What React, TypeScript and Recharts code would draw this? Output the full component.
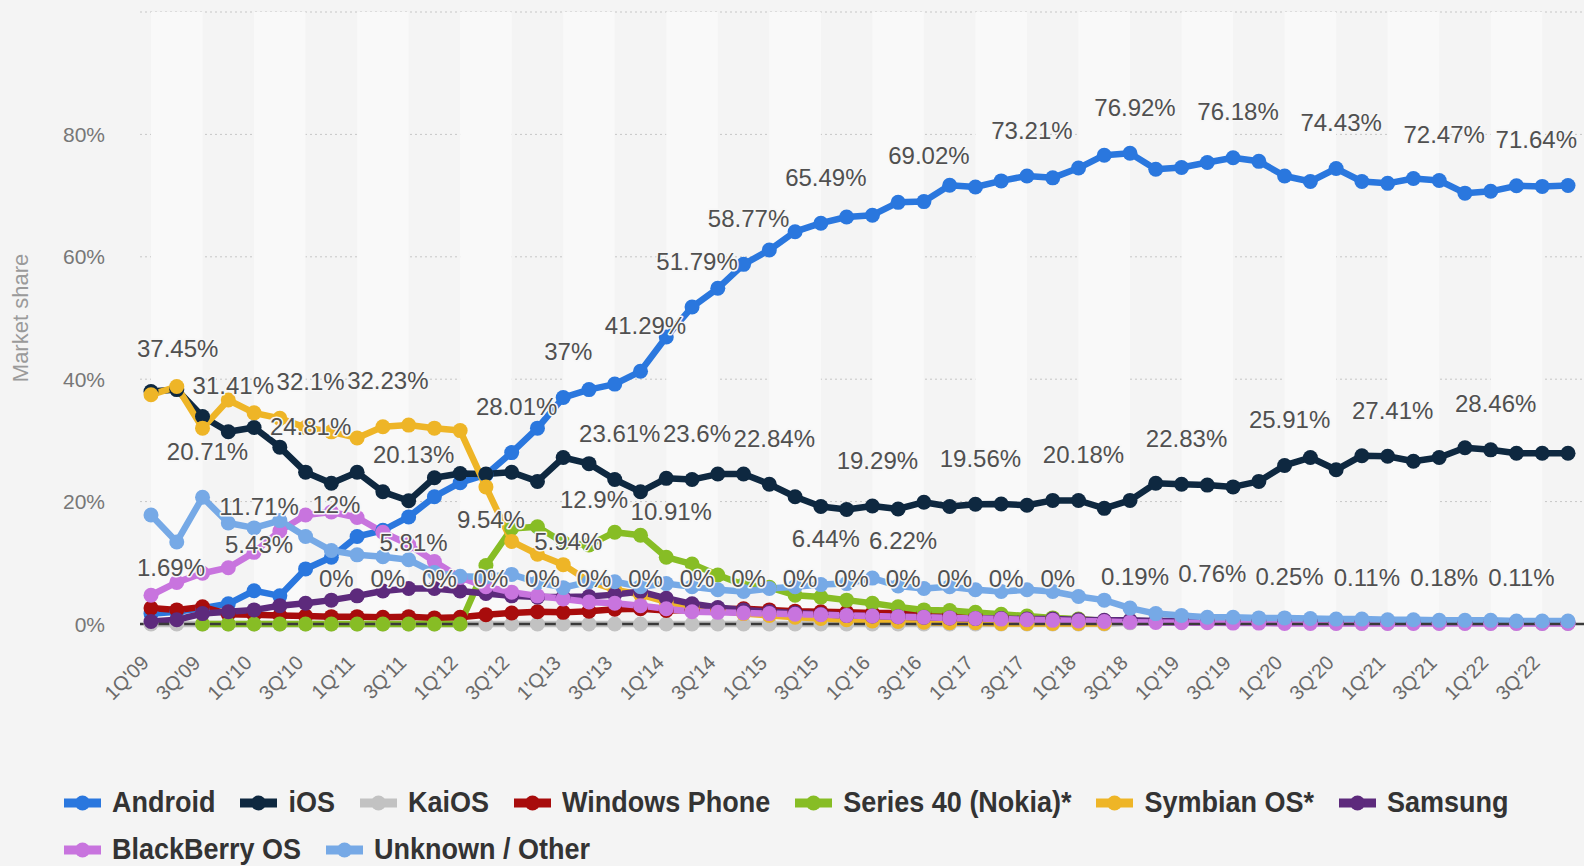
import React from 'react';
import { LineChart, Line, XAxis, YAxis, CartesianGrid, ReferenceArea } from 'recharts';

const FONT = '"Liberation Sans", Arial, Helvetica, sans-serif';

const quarters = [
  "1Q'09", "2Q'09", "3Q'09", "4Q'09", "1Q'10", "2Q'10", "3Q'10", "4Q'10",
  "1Q'11", "2Q'11", "3Q'11", "4Q'11", "1Q'12", "2Q'12", "3Q'12", "4Q'12",
  "1'Q13", "2Q'13", "3Q'13", "4Q'13", "1Q'14", "2Q'14", "3Q'14", "4Q'14",
  "1Q'15", "2Q'15", "3Q'15", "4Q'15", "1Q'16", "2Q'16", "3Q'16", "4Q'16",
  "1Q'17", "2Q'17", "3Q'17", "4Q'17", "1Q'18", "2Q'18", "3Q'18", "4Q'18",
  "1Q'19", "2Q'19", "3Q'19", "4Q'19", "1Q'20", "2Q'20", "3Q'20", "4Q'20",
  "1Q'21", "2Q'21", "3Q'21", "4Q'21", "1Q'22", "2Q'22", "3Q'22", "4Q'22",
];

const android = [1.69, 2.0, 2.6, 3.3, 5.43, 4.6, 9.0, 10.9, 14.3, 15.3, 17.5, 20.8, 23.1, 24.4, 28.01, 32.0, 37, 38.3, 39.2, 41.29, 46.9, 51.79, 54.85, 58.77, 61.1, 64.1, 65.49, 66.5, 66.8, 68.9, 69.02, 71.7, 71.4, 72.4, 73.21, 72.9, 74.5, 76.6, 76.92, 74.3, 74.6, 75.4, 76.18, 75.6, 73.2, 72.3, 74.43, 72.3, 72.0, 72.8, 72.47, 70.4, 70.7, 71.6, 71.5, 71.64];
const ios = [38.0, 38.3, 33.9, 31.41, 32.1, 28.9, 24.81, 23.0, 24.8, 21.6, 20.13, 23.9, 24.6, 24.5, 24.8, 23.3, 27.2, 26.2, 23.61, 21.6, 23.8, 23.6, 24.5, 24.5, 22.84, 20.8, 19.2, 18.7, 19.29, 18.8, 19.9, 19.2, 19.56, 19.6, 19.4, 20.2, 20.18, 18.9, 20.2, 23.0, 22.83, 22.7, 22.4, 23.3, 25.91, 27.2, 25.2, 27.5, 27.41, 26.6, 27.2, 28.8, 28.46, 27.9, 27.9, 27.9];
const kaios = [0, 0, 0, 0, 0, 0, 0, 0, 0, 0, 0, 0, 0, 0, 0, 0, 0, 0, 0, 0, 0, 0, 0, 0, 0, 0, 0, 0, 0, 0, 0, 0, 0, 0, 0, 0, 0, 0, 0.19, 0.45, 0.6, 0.76, 0.55, 0.4, 0.25, 0.2, 0.15, 0.11, 0.14, 0.16, 0.18, 0.15, 0.13, 0.11, 0.1, 0.1];
const windowsPhone = [2.6, 2.3, 2.8, 1.6, 1.5, 1.4, 1.3, 1.2, 1.2, 1.1, 1.2, 1.0, 1.1, 1.5, 1.8, 2.0, 1.9, 2.1, 2.4, 2.5, 2.2, 2.3, 2.4, 2.5, 2.3, 2.1, 2.0, 1.9, 1.8, 1.8, 1.7, 1.5, 1.4, 1.2, 1.0, 0.9, 0.7, 0.5, null, null, null, null, null, null, null, null, null, null, null, null, null, null, null, null, null, null];
const series40 = [null, null, 0, 0, 0, 0, 0, 0, 0, 0, 0, 0, 0, 9.54, 15.6, 15.9, 13.3, 12.9, 15.0, 14.5, 10.91, 9.8, 8.0, 6.4, 6.0, 4.7, 4.4, 3.9, 3.4, 2.8, 2.3, 2.2, 1.9, 1.6, 1.3, 1.0, 0.8, 0.5, null, null, null, null, null, null, null, null, null, null, null, null, null, null, null, null, null, null];
const symbian = [37.45, 38.8, 32.0, 36.6, 34.5, 33.6, 32.1, 31.4, 30.4, 32.23, 32.5, 32.0, 31.6, 22.4, 13.5, 11.4, 9.7, 7.0, 5.6, 4.8, 3.6, 2.8, 2.2, 1.7, 1.4, 1.1, 0.9, 0.7, 0.5, 0.4, 0.3, 0.2, 0.2, 0.1, 0.1, 0.1, 0.1, 0.1, null, null, null, null, null, null, null, null, null, null, null, null, null, null, null, null, null, null];
const samsung = [0.4, 0.7, 1.7, 2.0, 2.3, 3.0, 3.4, 3.9, 4.6, 5.4, 5.81, 5.8, 5.4, 5.0, 4.6, 4.4, 4.4, 4.5, 4.8, 5.3, 4.2, 3.3, 2.7, 2.3, 2.0, 1.8, 1.6, 1.4, 1.3, 1.2, 1.1, 1.0, 0.9, 0.9, 0.8, 0.8, 0.7, 0.6, 0.6, 0.5, 0.5, 0.5, 0.4, 0.4, 0.4, 0.4, 0.3, 0.3, 0.3, 0.3, 0.3, 0.3, 0.3, 0.3, 0.2, 0.2];
const blackberry = [4.7, 6.8, 8.3, 9.2, 11.71, 15.2, 17.8, 18.3, 17.4, 15.0, 13.0, 10.2, 7.6, 6.1, 5.2, 4.6, 4.1, 3.6, 3.4, 3.0, 2.5, 2.0, 1.9, 1.8, 1.7, 1.6, 1.5, 1.4, 1.3, 1.2, 1.1, 1.0, 0.9, 0.8, 0.7, 0.6, 0.5, 0.4, 0.3, 0.25, 0.2, 0.2, 0.15, 0.15, 0.1, 0.1, 0.1, 0.1, 0.1, 0.1, 0.1, 0.1, 0.1, 0.1, 0.1, 0.1];
const unknownOther = [17.8, 13.4, 20.71, 16.5, 15.7, 16.9, 14.3, 12, 11.3, 11.0, 10.5, 8.4, 7.8, 7.7, 8.1, 6.8, 5.94, 6.9, 6.9, 6.1, 6.6, 6.1, 5.6, 5.3, 5.8, 6.1, 6.44, 6.6, 7.5, 6.22, 5.8, 6.1, 5.6, 5.3, 5.6, 5.3, 4.5, 3.9, 2.6, 1.7, 1.4, 1.1, 1.1, 1.0, 1.0, 0.9, 0.8, 0.8, 0.7, 0.7, 0.6, 0.6, 0.6, 0.5, 0.5, 0.5];

// indices of the points whose value label is visible
const androidLabels = [0, 4, 14, 16, 19, 21, 23, 26, 30, 34, 38, 42, 46, 50, 55];
const iosLabels = [3, 6, 10, 18, 21, 24, 28, 32, 36, 40, 44, 48, 52];
const kaiosLabels = [7, 9, 11, 13, 15, 17, 19, 21, 23, 25, 27, 29, 31, 33, 35, 38, 41, 44, 47, 50, 53];
const windowsPhoneLabels: number[] = [];
const series40Labels = [13, 17, 20];
const symbianLabels = [0, 6, 9];
const samsungLabels = [10];
const blackberryLabels = [4];
const unknownOtherLabels = [2, 7, 16, 26, 29];

const yTicks = [0, 20, 40, 60, 80, 100];

type Series = { key: string; name: string; color: string; values: (number | null)[]; labels: number[] };

const series: Series[] = [
  { key: 'android', name: 'Android', color: '#2a77de', values: android, labels: androidLabels },
  { key: 'ios', name: 'iOS', color: '#0e2840', values: ios, labels: iosLabels },
  { key: 'kaios', name: 'KaiOS', color: '#c2c2c2', values: kaios, labels: kaiosLabels },
  { key: 'windows', name: 'Windows Phone', color: '#a80c0c', values: windowsPhone, labels: windowsPhoneLabels },
  { key: 's40', name: 'Series 40 (Nokia)*', color: '#87bd25', values: series40, labels: series40Labels },
  { key: 'symbian', name: 'Symbian OS*', color: '#eeb527', values: symbian, labels: symbianLabels },
  { key: 'samsung', name: 'Samsung', color: '#5d2a7c', values: samsung, labels: samsungLabels },
  { key: 'blackberry', name: 'BlackBerry OS', color: '#c874de', values: blackberry, labels: blackberryLabels },
  { key: 'unknown', name: 'Unknown / Other', color: '#76a9e6', values: unknownOther, labels: unknownOtherLabels },
];

const data = quarters.map((q, i) => {
  const row: Record<string, any> = { q };
  series.forEach((s) => { row[s.key] = s.values[i]; });
  return row;
});

const bandStarts: number[] = [];
for (let k = 0; k + 2 < quarters.length; k += 4) bandStarts.push(k);

const CHAR_W: Record<string, number> = { '.': 0.278, '%': 0.889 };
const textWidth = (s: string, fs: number) =>
  s.split('').reduce((a, c) => a + (CHAR_W[c] ?? 0.556), 0) * fs;

const LABEL_FS = 24;
const PLOT_MIN_X = 137;
const PLOT_MAX_X = 1577;

const makeLabelDot = (s: Series) => {
  const show = new Set(s.labels);
  return (props: any) => {
    const { cx, cy, index } = props;
    const v = s.values[index];
    const k = `lbl-${s.key}-${index}`;
    if (cx == null || cy == null || v == null || !show.has(index)) return <g key={k} />;
    const text = `${v}%`;
    const w = textWidth(text, LABEL_FS);
    let x = cx + 5;
    if (x - w / 2 < PLOT_MIN_X) x = PLOT_MIN_X + w / 2;
    if (x + w / 2 > PLOT_MAX_X) x = PLOT_MAX_X - w / 2;
    return (
      <text
        key={k}
        x={x}
        y={cy - 46}
        dy="0.36em"
        textAnchor="middle"
        fontSize={LABEL_FS}
        fontFamily={FONT}
        fill="#505050"
        stroke="#f7f7f7"
        strokeWidth={3}
        strokeLinejoin="round"
        paintOrder="stroke"
      >
        {text}
      </text>
    );
  };
};

const XTick = (props: any) => {
  const { x, payload } = props;
  const ax = x - 1;
  const ay = 664;
  return (
    <text x={ax} y={ay} transform={`rotate(-45 ${ax} ${ay})`} textAnchor="end" fontSize={20} fontFamily={FONT} fill="#6a6a6a">
      {payload.value}
    </text>
  );
};

const YTick = (props: any) => {
  const { y, payload } = props;
  const v = payload.value;
  return (
    <text x={105} y={y} dy="0.36em" textAnchor="end" fontSize={21} fontFamily={FONT} fill="#777777">
      {v === 100 ? '' : `${v}%`}
    </text>
  );
};

const YLabel = () => (
  <text x={20} y={318} transform="rotate(-90 20 318)" textAnchor="middle" dy="0.36em" fontSize={22} fontFamily={FONT} fill="#9a9a9a">
    Market share
  </text>
);

export default function App() {
  return (
    <div style={{ position: 'absolute', left: 0, top: 0, width: 1584, height: 866, background: '#f4f4f4', overflow: 'hidden', fontFamily: FONT }}>
      <LineChart width={1584} height={770} data={data} margin={{ top: 12, right: 0, bottom: 0, left: 0 }}>
        {bandStarts.map((k) => (
          <ReferenceArea key={`band-${k}`} x1={quarters[k]} x2={quarters[k + 2]} fill="#f9f9f9" fillOpacity={1} stroke="none" ifOverflow="visible" />
        ))}
        <CartesianGrid vertical={false} stroke="#c6c6c6" strokeDasharray="2 3" />
        <XAxis
          dataKey="q"
          interval={1}
          tickLine={false}
          axisLine={{ stroke: '#3a3a3a', strokeWidth: 2.5 }}
          padding={{ left: 11, right: 16 }}
          height={146}
          tick={<XTick />}
        />
        <YAxis
          width={140}
          domain={[0, 100]}
          ticks={yTicks}
          tickLine={false}
          axisLine={false}
          tick={<YTick />}
          label={<YLabel />}
        />
        {series.map((s) => (
          <Line
            key={s.key}
            type="linear"
            dataKey={s.key}
            stroke={s.color}
            strokeWidth={6.5}
            strokeLinejoin="round"
            dot={{ r: 7.5, fill: s.color, stroke: s.color, strokeWidth: 0 }}
            activeDot={false}
            isAnimationActive={false}
            connectNulls={false}
          />
        ))}
        {series.map((s) => (
          <Line
            key={`${s.key}-labels`}
            type="linear"
            dataKey={s.key}
            stroke="none"
            strokeWidth={0}
            dot={makeLabelDot(s)}
            activeDot={false}
            isAnimationActive={false}
            legendType="none"
          />
        ))}
      </LineChart>
      <div style={{ position: 'absolute', left: 64, top: 779, width: 1500, display: 'flex', flexWrap: 'wrap', columnGap: 25 }}>
        {series.map((s) => (
          <div key={s.key} style={{ display: 'flex', alignItems: 'center', height: 47 }}>
            <svg width={37} height={20}>
              <rect x={0} y={5.5} width={37} height={9} fill={s.color} />
              <circle cx={18.5} cy={10} r={7.5} fill={s.color} />
            </svg>
            <span style={{ marginLeft: 11, fontSize: 27, fontWeight: 'bold', color: '#333', whiteSpace: 'nowrap', lineHeight: '47px', display: 'inline-block', transform: 'scaleY(1.1)' }}>
              {s.name}
            </span>
          </div>
        ))}
      </div>
    </div>
  );
}
